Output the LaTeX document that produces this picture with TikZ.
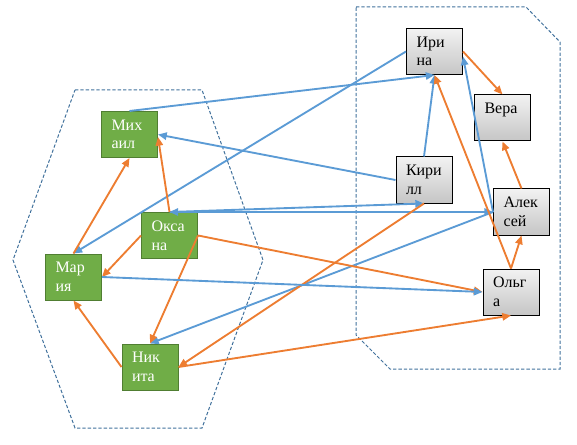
\documentclass[tikz,border=0pt]{standalone}
\usepackage{fontspec}
\setmainfont{Liberation Serif}
\usetikzlibrary{arrows.meta}
\definecolor{lineblue}{HTML}{5B9BD5}
\definecolor{lineorange}{HTML}{ED7D31}
\definecolor{boxgreen}{HTML}{70AD47}
\definecolor{edgegreen}{HTML}{507E32}
\definecolor{areablue}{HTML}{41719C}
\tikzstyle{bluearrow} = [lineblue,line width=1.4pt,->,>={Stealth[inset=0pt,length=6.5pt,width=5.5pt]}]
\tikzstyle{orangearrow} = [lineorange,line width=1.4pt,->,>={Stealth[inset=0pt,length=6.5pt,width=5.5pt]}]
\begin{document}
\begin{tikzpicture}
        [
            x=0.75pt, y=-0.75pt,
            box/.style={rectangle,line width=0.75pt,minimum width=42pt,minimum height=34.5pt,
                inner xsep=7.5pt,text width=27pt,align=left,font=\fontsize{12}{14}\selectfont},
            greenbox/.style={box,draw=edgegreen,fill=boxgreen,text=white},
            graybox/.style={box,draw=black,top color=gray!10,bottom color=gray!45},
            area/.style={areablue,line width=0.75pt,dash pattern=on 2.5pt off 1.5pt},
        ]
    \useasboundingbox (0,0) rectangle (577,445);

    % the two groups
    \draw[area] (75,90) -- (202,90) -- (263,260) -- (202,428) -- (75,428) -- (13,260) -- cycle;
    \draw[area] (356,7) -- (526,7) -- (560,42) -- (560,369) -- (390,369) -- (356,335) -- cycle;

    % left group
    \node[greenbox] (mikhail) at (129.5,134.5){Мих\\аил};
    \node[greenbox] (oksana) at (169.5,235.5){Окса\\на};
    \node[greenbox] (mariya) at (73.5,277){Мар\\ия};
    \node[greenbox] (nikita) at (150,367){Ник\\ита};

    % right group
    \node[graybox] (irina) at (434.5,51.5){Ири\\на};
    \node[graybox] (vera) at (502.5,118){Вера\\\mbox{}};
    \node[graybox] (kirill) at (424,180){Кири\\лл};
    \node[graybox] (aleksey) at (521.5,212){Алек\\сей};
    \node[graybox] (olga) at (511,292){Ольг\\а};

    % blue links
    \draw[bluearrow] (mikhail.north) -- (irina.south);
    \draw[bluearrow] (irina.west) -- (mariya.north);
    \draw[bluearrow] (kirill.west) -- (mikhail.east);
    \draw[bluearrow] (kirill.north) -- (irina.south);
    \draw[bluearrow] (aleksey.west) -- (irina.-10);
    \draw[bluearrow] (aleksey.west) -- (nikita.north);
    \draw[bluearrow] (oksana.north) -- (kirill.south);
    \draw[bluearrow,<->] (oksana.north) -- (aleksey.west);

    % orange links
    \draw[orangearrow] (mariya.north) -- (mikhail.south);
    \draw[orangearrow] (oksana.north) -- (mikhail.-5);
    \draw[orangearrow] (oksana.west) -- (mariya.east);
    \draw[orangearrow] (oksana.east) -- (olga.west);
    \draw[orangearrow] (oksana.east) -- (nikita.north);
    \draw[orangearrow] (nikita.west) -- (mariya.south);
    \draw[orangearrow] (kirill.south) -- (nikita.east);
    \draw[orangearrow] (nikita.east) -- (olga.south);
    \draw[orangearrow] (olga.north) -- (irina.south);
    \draw[orangearrow] (olga.north) -- (aleksey.south);
    \draw[orangearrow] (aleksey.north) -- (vera.south);
    \draw[orangearrow] (irina.east) -- (vera.north);
    \draw[bluearrow] (mariya.east) -- (olga.west);
    \end{tikzpicture}
\end{document}
